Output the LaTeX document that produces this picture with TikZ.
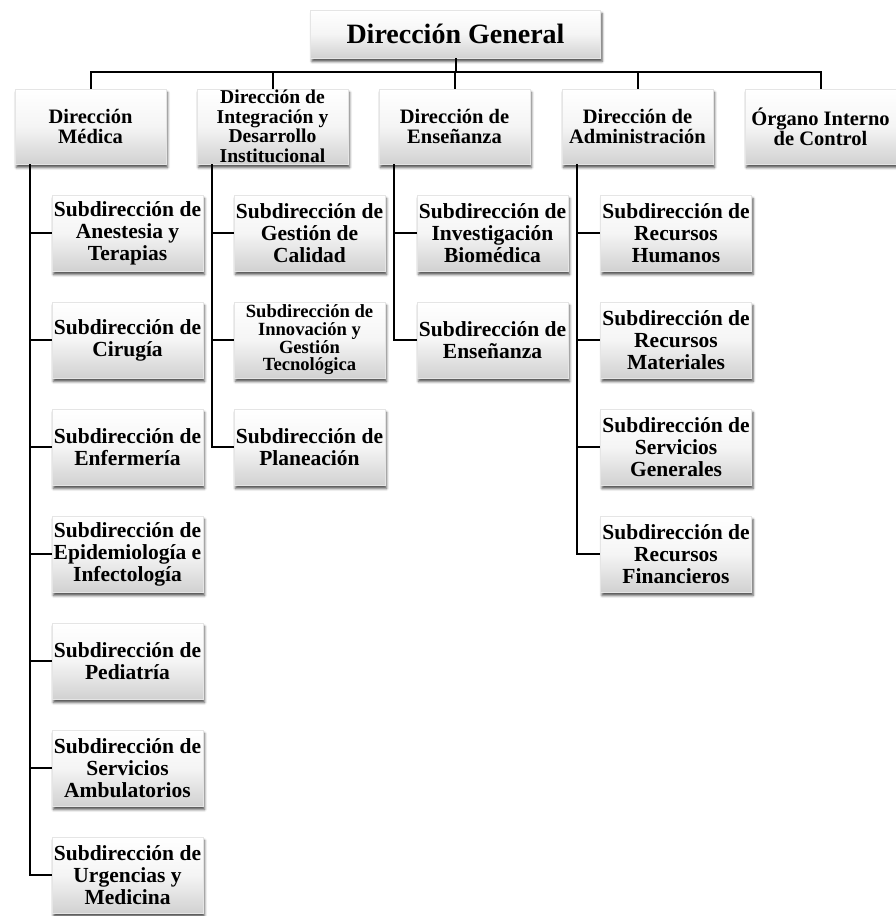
\documentclass[tikz,border=0pt]{standalone}
\usepackage{fontspec}
\setmainfont{Liberation Serif}
\usetikzlibrary{shadows.blur}

\tikzset{
  unitbox/.style={
    rectangle, inner sep=0pt, align=center, text=black,
    top color=white, bottom color=black!18, middle color=white!96!black,
    draw=black!10, line width=0.4pt,
    blur shadow={shadow xshift=1.5pt, shadow yshift=-3.5pt,
                 shadow blur radius=2.5pt, shadow opacity=70}},
  headbox/.style={unitbox, minimum width=290pt, minimum height=48pt,
    font=\bfseries\fontsize{28}{30}\selectfont},
  dirbox/.style={unitbox, minimum width=151pt, minimum height=75pt,
    font=\bfseries\fontsize{20.5}{20}\selectfont},
  subbox/.style={unitbox, minimum width=151pt, minimum height=76pt,
    font=\bfseries\fontsize{21.5}{22}\selectfont},
  dirsmall/.style={font=\bfseries\fontsize{19.6}{19.6}\selectfont},
  subsmall/.style={font=\bfseries\fontsize{18.6}{17.7}\selectfont},
  link/.style={draw=black, line width=2pt}
}

\begin{document}
\begin{tikzpicture}[x=1pt, y=-1pt]
\useasboundingbox (0,0) rectangle (896,916);

% top level
\node[headbox] (g) at (455.5,34) {Dirección General};

% directorates
\node[dirbox] (m) at (90.5,126.5)  {Dirección\\Médica};
\node[dirbox, dirsmall] (i) at (272.5,126.5) {Dirección de\\Integración y\\Desarrollo\\Institucional};
\node[dirbox] (e) at (454.5,126.5) {Dirección de\\Enseñanza};
\node[dirbox] (a) at (637.5,126.5) {Dirección de\\Administración};
\node[dirbox] (o) at (820.5,126.5) {Órgano Interno\\de Control};

% sub-directorates under Dirección Médica
\node[subbox] (m1) at (127.5,233) {Subdirección de\\Anestesia y\\Terapias};
\node[subbox] (m2) at (127.5,340) {Subdirección de\\Cirugía};
\node[subbox] (m3) at (127.5,447) {Subdirección de\\Enfermería};
\node[subbox] (m4) at (127.5,554) {Subdirección de\\Epidemiología e\\Infectología};
\node[subbox] (m5) at (127.5,661) {Subdirección de\\Pediatría};
\node[subbox] (m6) at (127.5,768) {Subdirección de\\Servicios\\Ambulatorios};
\node[subbox] (m7) at (127.5,875) {Subdirección de\\Urgencias y\\Medicina};

% under Dirección de Integración y Desarrollo Institucional
\node[subbox] (i1) at (309.5,233) {Subdirección de\\Gestión de\\Calidad};
\node[subbox, subsmall] (i2) at (309.5,340) {Subdirección de\\Innovación y\\Gestión\\Tecnológica};
\node[subbox] (i3) at (309.5,447) {Subdirección de\\Planeación};

% under Dirección de Enseñanza
\node[subbox] (e1) at (492.5,233) {Subdirección de\\Investigación\\Biomédica};
\node[subbox] (e2) at (492.5,340) {Subdirección de\\Enseñanza};

% under Dirección de Administración
\node[subbox] (a1) at (676,233) {Subdirección de\\Recursos\\Humanos};
\node[subbox] (a2) at (676,340) {Subdirección de\\Recursos\\Materiales};
\node[subbox] (a3) at (676,447) {Subdirección de\\Servicios\\Generales};
\node[subbox] (a4) at (676,554) {Subdirección de\\Recursos\\Financieros};

% connectors
\coordinate (bus) at (455.5,72);
\draw[link] (g.south) -- (bus);
\draw[link] (bus) -| (m.north);
\draw[link] (bus) -| (i.north);
\draw[link] (bus) -| (e.north);
\draw[link] (bus) -| (a.north);
\draw[link] (bus) -| (o.north);

\coordinate (tm) at ([xshift=15pt]m.south west);
\coordinate (ti) at ([xshift=15pt]i.south west);
\coordinate (te) at ([xshift=15pt]e.south west);
\coordinate (ta) at ([xshift=15pt]a.south west);

\foreach \c in {m1,m2,m3,m4,m5,m6,m7} \draw[link] (tm) |- (\c.west);
\foreach \c in {i1,i2,i3} \draw[link] (ti) |- (\c.west);
\foreach \c in {e1,e2} \draw[link] (te) |- (\c.west);
\foreach \c in {a1,a2,a3,a4} \draw[link] (ta) |- (\c.west);
\end{tikzpicture}
\end{document}
